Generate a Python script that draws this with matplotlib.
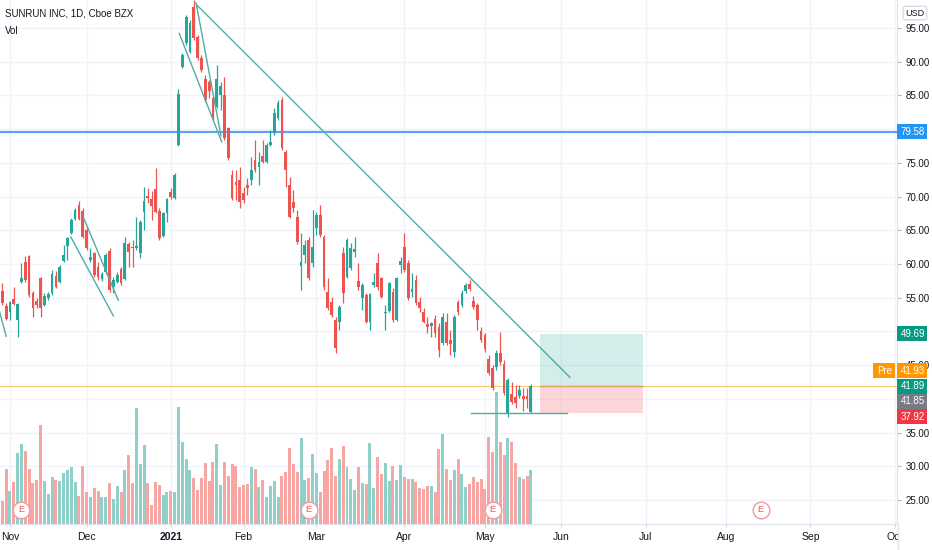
import matplotlib
matplotlib.use('Agg')
import matplotlib.pyplot as plt
from matplotlib.patches import Rectangle
from matplotlib.lines import Line2D
from matplotlib.transforms import blended_transform_factory

plt.rcParams['font.family'] = ['Liberation Sans', 'DejaVu Sans']

# daily bars: index 0 = 29 Oct 2020 ... index 138 = 19 May 2021
opens = [56.0, 53.8, 52.9, 54.8, 51.7, 57.3, 60.3, 61.2, 55.7, 54.5,
         57.9, 53.9, 55.0, 55.7, 58.2, 57.3, 60.4, 62.7, 64.6, 66.7,
         68.8, 67.9, 65.0, 60.6, 61.6, 59.6, 57.8, 58.8, 61.9, 56.6,
         57.3, 59.3, 57.8, 63.0, 62.5, 62.4, 61.6, 67.7, 70.1, 69.6,
         71.1, 67.9, 64.2, 67.6, 70.7, 69.8, 77.6, 89.2, 92.8, 91.4,
         98.1, 93.7, 90.6, 87.4, 87.0, 84.6, 83.3, 85.1, 85.1, 80.2,
         73.2, 72.2, 72.5, 70.5, 71.7, 72.5, 75.4, 74.4, 76.0, 75.1,
         77.6, 79.4, 81.7, 84.3, 76.6, 71.7, 69.2, 67.0, 59.7, 61.3,
         63.6, 60.1, 65.3, 67.3, 64.0, 55.8, 54.4, 51.7, 51.4, 61.6,
         58.1, 59.4, 61.8, 57.5, 55.0, 55.4, 51.4, 56.9, 60.1, 57.9,
         52.7, 53.0, 55.8, 51.7, 59.9, 62.5, 60.1, 55.8, 57.6, 54.4,
         52.9, 51.1, 50.8, 51.8, 50.7, 48.3, 51.4, 48.7, 46.9, 54.4,
         53.9, 56.0, 57.0, 54.5, 53.9, 50.1, 49.5, 45.9, 44.6, 44.7,
         46.8, 45.2, 37.8, 40.7, 40.3, 40.4, 40.4, 40.4, 38.05]
highs = [57.2, 54.2, 54.5, 56.6, 54.2, 60.1, 61.2, 61.3, 56.0, 55.0,
         58.1, 55.7, 55.8, 59.1, 59.0, 59.9, 62.8, 64.0, 66.8, 68.3,
         69.3, 68.3, 65.5, 62.4, 61.8, 60.3, 58.8, 61.6, 62.4, 58.1,
         58.8, 59.6, 64.0, 63.3, 63.6, 67.0, 66.5, 71.4, 71.3, 70.8,
         74.2, 68.3, 67.7, 69.8, 71.3, 73.5, 86.0, 91.3, 96.9, 96.2,
         99.2, 94.0, 91.0, 88.0, 87.3, 84.8, 89.5, 87.0, 87.7, 80.3,
         73.9, 73.9, 74.4, 71.4, 72.8, 75.9, 78.4, 76.6, 78.4, 77.9,
         79.9, 83.1, 84.3, 84.8, 76.9, 72.9, 71.0, 68.0, 64.6, 63.6,
         64.0, 68.0, 67.7, 68.8, 64.3, 57.9, 55.1, 52.1, 53.9, 62.5,
         63.9, 63.1, 64.0, 60.1, 57.2, 55.7, 55.7, 58.7, 61.6, 58.1,
         53.9, 57.3, 56.4, 58.1, 61.0, 64.6, 60.6, 58.7, 58.4, 55.1,
         53.5, 52.1, 51.4, 52.4, 51.3, 52.7, 52.7, 50.2, 52.4, 54.7,
         56.1, 57.2, 57.6, 55.3, 54.2, 50.7, 49.8, 46.5, 45.0, 47.2,
         49.9, 45.8, 43.1, 42.5, 42.1, 42.1, 41.6, 41.6, 42.2]
lows = [53.9, 51.7, 51.7, 53.9, 49.2, 57.2, 57.3, 55.1, 52.1, 53.5,
        52.1, 53.8, 54.7, 55.4, 56.4, 57.2, 60.3, 60.6, 64.4, 66.5,
        66.5, 63.9, 62.1, 60.3, 58.1, 57.6, 57.5, 58.5, 55.8, 55.7,
        57.2, 56.9, 57.6, 59.6, 59.6, 62.1, 60.9, 65.0, 69.0, 66.5,
        67.6, 63.6, 64.0, 66.2, 69.6, 69.6, 77.5, 89.1, 92.5, 91.3,
        93.2, 90.3, 88.5, 84.0, 84.6, 81.4, 83.1, 82.8, 78.4, 75.4,
        69.5, 69.5, 68.3, 69.0, 70.2, 71.7, 73.6, 71.7, 75.0, 75.0,
        77.5, 79.1, 81.4, 76.9, 71.4, 66.8, 67.7, 63.0, 56.1, 60.1,
        57.6, 59.6, 64.3, 64.0, 56.1, 53.2, 52.1, 46.8, 50.2, 54.2,
        57.9, 59.1, 61.0, 56.1, 53.2, 51.3, 50.2, 56.6, 56.1, 55.0,
        50.2, 52.9, 51.4, 51.5, 58.7, 58.8, 54.7, 55.1, 53.9, 52.9,
        51.3, 49.8, 49.2, 49.2, 46.2, 48.0, 48.0, 46.5, 46.2, 52.4,
        53.6, 55.7, 56.0, 53.3, 50.2, 48.4, 47.0, 43.5, 41.3, 44.3,
        45.0, 40.6, 37.3, 39.2, 38.6, 40.1, 38.2, 38.6, 37.9]
closes = [54.2, 51.8, 54.4, 54.1, 54.1, 57.9, 57.6, 55.4, 53.5, 53.9,
          53.5, 55.3, 55.6, 58.5, 56.6, 59.6, 61.3, 63.9, 66.5, 68.0,
          66.7, 64.0, 62.4, 61.0, 58.4, 58.1, 58.5, 61.3, 56.1, 57.6,
          58.4, 57.2, 63.1, 61.8, 62.3, 62.7, 66.2, 69.3, 69.8, 68.6,
          67.7, 63.9, 67.6, 69.6, 69.9, 73.2, 85.2, 91.0, 96.6, 95.7,
          93.5, 90.6, 88.8, 84.3, 85.7, 81.7, 87.4, 86.4, 78.7, 75.7,
          69.8, 71.7, 69.2, 69.5, 71.3, 74.0, 74.0, 75.1, 75.1, 77.6,
          78.1, 82.4, 83.9, 77.2, 73.9, 67.0, 68.3, 63.3, 60.3, 62.8,
          57.9, 62.5, 67.3, 64.3, 56.6, 53.5, 52.4, 47.5, 53.6, 55.7,
          63.6, 62.4, 62.2, 56.6, 56.9, 51.4, 55.6, 57.3, 56.6, 55.1,
          52.9, 57.2, 51.7, 57.9, 60.4, 59.1, 55.0, 56.3, 54.2, 53.5,
          51.4, 50.7, 51.3, 49.8, 47.2, 52.1, 48.3, 48.1, 52.1, 52.9,
          55.7, 56.9, 56.3, 53.6, 51.7, 48.7, 47.4, 43.8, 41.6, 46.8,
          45.5, 40.9, 42.8, 39.5, 39.4, 41.3, 40.0, 40.0, 41.89]
# volume in millions of shares
volumes = [3.5, 8.3, 5.0, 6.3, 10.6, 12.0, 11.0, 8.3, 6.2, 6.6,
           14.9, 6.5, 4.5, 7.1, 6.6, 6.5, 7.6, 8.1, 8.5, 6.3,
           4.2, 8.7, 4.8, 4.1, 5.4, 5.0, 4.0, 4.0, 6.1, 3.7,
           5.7, 4.8, 8.1, 10.4, 6.2, 17.4, 9.0, 11.9, 6.1, 2.8,
           6.3, 5.9, 4.4, 4.8, 5.0, 4.8, 17.6, 12.3, 9.8, 8.1,
           6.9, 5.1, 6.9, 9.2, 6.5, 9.3, 12.0, 5.9, 9.3, 7.2,
           9.0, 8.7, 5.6, 5.9, 6.0, 8.5, 8.3, 5.5, 6.6, 4.0,
           5.7, 6.5, 4.0, 7.2, 7.8, 11.4, 9.0, 7.8, 12.9, 6.6,
           6.9, 10.5, 7.7, 4.8, 8.0, 9.6, 11.4, 7.2, 9.7, 11.7,
           8.5, 6.7, 5.1, 8.5, 6.2, 6.0, 12.1, 5.4, 10.0, 7.5,
           9.1, 6.5, 8.7, 6.6, 8.8, 7.0, 6.8, 6.7, 6.3, 5.4,
           5.2, 5.7, 5.7, 4.8, 11.2, 13.5, 8.3, 6.6, 8.1, 9.7,
           7.5, 5.6, 6.0, 7.1, 6.3, 6.8, 5.2, 13.1, 10.8, 19.8,
           12.3, 10.4, 12.9, 12.3, 9.2, 7.1, 6.7, 7.2, 8.1]

month_pos = [2, 22, 44, 63, 82, 105, 126, 146, 168, 189, 211, 233]
month_labels = ['Nov', 'Dec', '2021', 'Feb', 'Mar', 'Apr', 'May',
                'Jun', 'Jul', 'Aug', 'Sep', 'Oct']
price_ticks = [25, 30, 35, 40, 45, 50, 55, 60, 65, 70, 75, 80, 85, 90, 95]
hidden_ticks = [40, 50, 80]   # covered by the price tags
earnings_idx = [5, 80, 128, 198]

# drawings (bar index, price)
trend_main_x, trend_main_y = [50.8, 148.2], [98.4, 43.2]
chan_nov1_x, chan_nov1_y = [17.9, 29.0], [64.0, 52.3]
chan_nov2_x, chan_nov2_y = [21.1, 30.3], [67.0, 54.6]
chan_oct_x, chan_oct_y = [-1.5, 1.0], [54.6, 49.3]
chan_jan1_x, chan_jan1_y = [46.2, 57.3], [94.2, 78.1]
chan_jan2_x, chan_jan2_y = [50.6, 57.1], [98.7, 79.0]
support_x, support_y = [122.4, 147.4], [37.9, 37.9]
resistance = 79.58
pos_x = [140.4, 167.3]
target, entry, stop = 49.69, 41.89, 37.92
premarket = 41.93
gray_level = 41.85

W, H = 932, 550
TEAL, RED = '#26a69a', '#ef5350'
YMIN, YMAX = 21.44, 99.15
VOL_TOP = 78.6

fig = plt.figure(figsize=(W / 100, H / 100), dpi=100)
ax = fig.add_axes([0, 26 / H, 897 / W, 524 / H])
ax.set_xlim(-0.6, 233.6)
ax.set_ylim(YMIN, YMAX)

for p in price_ticks:
    ax.axhline(p, color='#f0f3fa', lw=1, zorder=0)
for m in month_pos:
    ax.axvline(m, color='#f0f3fa', lw=1, zorder=0)

idx = list(range(len(closes)))
up = [c >= o for o, c in zip(opens, closes)]
cols = [TEAL if u else RED for u in up]
vcols = ['#8fd0ca' if u else '#f7a6a4' for u in up]

# volume overlay on the bottom of the price pane
scale = (YMAX - YMIN) / VOL_TOP
ax.bar(idx, [v * scale for v in volumes], bottom=YMIN, width=0.78,
       color=vcols, zorder=1)

# position tool
ax.add_patch(Rectangle((pos_x[0], entry), pos_x[1] - pos_x[0], target - entry,
                       fc=TEAL, alpha=0.2, ec='none', zorder=2))
ax.add_patch(Rectangle((pos_x[0], stop), pos_x[1] - pos_x[0], entry - stop,
                       fc='#f23645', alpha=0.2, ec='none', zorder=2))
ax.plot(pos_x, [entry, entry], color='#8a8d96', lw=1, zorder=2)

ax.axhline(resistance, color='#5ba4f5', lw=1.6, zorder=2)
ax.axhline(premarket, color='#ffb74d', lw=0.7, alpha=0.8, zorder=2)

# candles
ax.vlines(idx, lows, highs, colors=cols, lw=0.9, zorder=3)
bottoms = [min(o, c) for o, c in zip(opens, closes)]
heights = [max(abs(c - o), 0.15) for o, c in zip(opens, closes)]
ax.bar(idx, heights, bottom=bottoms, width=0.72, color=cols, zorder=4)

for xs, ys in [(trend_main_x, trend_main_y), (chan_nov1_x, chan_nov1_y),
               (chan_nov2_x, chan_nov2_y), (chan_oct_x, chan_oct_y),
               (chan_jan1_x, chan_jan1_y), (chan_jan2_x, chan_jan2_y),
               (support_x, support_y)]:
    ax.plot(xs, ys, color='#4fada3', lw=1, zorder=5)

# earnings markers
btrans = blended_transform_factory(ax.transData, ax.transAxes)
for e in earnings_idx:
    ax.plot([e], [0.027], marker='o', ms=12, mfc='white', mec='#f29aa1',
            mew=1, transform=btrans, zorder=6, clip_on=False)
    ax.text(e, 0.027, 'E', transform=btrans, ha='center', va='center',
            fontsize=6.5, color='#ef5350', zorder=7)

# axes styling
for s in ['top', 'left']:
    ax.spines[s].set_visible(False)
for s in ['right', 'bottom']:
    ax.spines[s].set_color('#e0e3eb')
ax.yaxis.tick_right()
ax.set_yticks(price_ticks, ['' if p in hidden_ticks else f'{p:.2f}'
                            for p in price_ticks])
ax.tick_params(axis='y', length=3, color='#b2b5be', labelsize=7,
               labelcolor='#131722', pad=3)
ax.set_xticks(month_pos, month_labels)
ax.tick_params(axis='x', length=2, color='#d1d4dc', labelsize=7.5,
               labelcolor='#131722', pad=4)
ax.get_xticklabels()[2].set_fontweight('bold')

# cut the last date label at the price scale
fig.add_artist(Rectangle((898 / W, 0), 34 / W, 25 / H, transform=fig.transFigure,
                         fc='white', ec='none', zorder=1))
fig.add_artist(Line2D([897.5 / W, 897.5 / W], [0, 26 / H], transform=fig.transFigure,
                      color='#e0e3eb', lw=1, zorder=2))


def price_y(p):
    return (YMAX - p) / (YMAX - YMIN) * 524


def tag(y_px, text, color, x0=897, w=30):
    fig.add_artist(Rectangle((x0 / W, 1 - (y_px + 7.5) / H), w / W, 15 / H,
                             transform=fig.transFigure, fc=color, ec='none', zorder=4))
    fig.text((x0 + w / 2 + 1) / W, 1 - y_px / H, text, color='white', fontsize=7,
             ha='center', va='center', zorder=5)


tag(price_y(resistance), f'{resistance:.2f}', '#2196f3')
tag(price_y(target), f'{target:.2f}', '#089981')
tag(price_y(premarket) - 15, f'{premarket:.2f}', '#ff9800')
tag(price_y(premarket) - 15, 'Pre', '#ff9800', x0=873, w=22)
tag(price_y(entry), f'{entry:.2f}', '#089981')
tag(price_y(gray_level) + 15, f'{gray_level:.2f}', '#787b86')
tag(price_y(stop) + 4, f'{stop:.2f}', '#f23645')

fig.text(915 / W, 1 - 13 / H, 'USD', fontsize=6.5, ha='center', va='center',
         color='#131722',
         bbox=dict(boxstyle='round,pad=0.25', fc='white', ec='#d1d4dc', lw=0.8))
fig.text(5 / W, 1 - 14 / H, 'SUNRUN INC, 1D, Cboe BZX', fontsize=7,
         va='center', color='#131722')
fig.text(5 / W, 1 - 31 / H, 'Vol', fontsize=7, va='center', color='#131722')

fig.savefig('out.png', dpi=100)
